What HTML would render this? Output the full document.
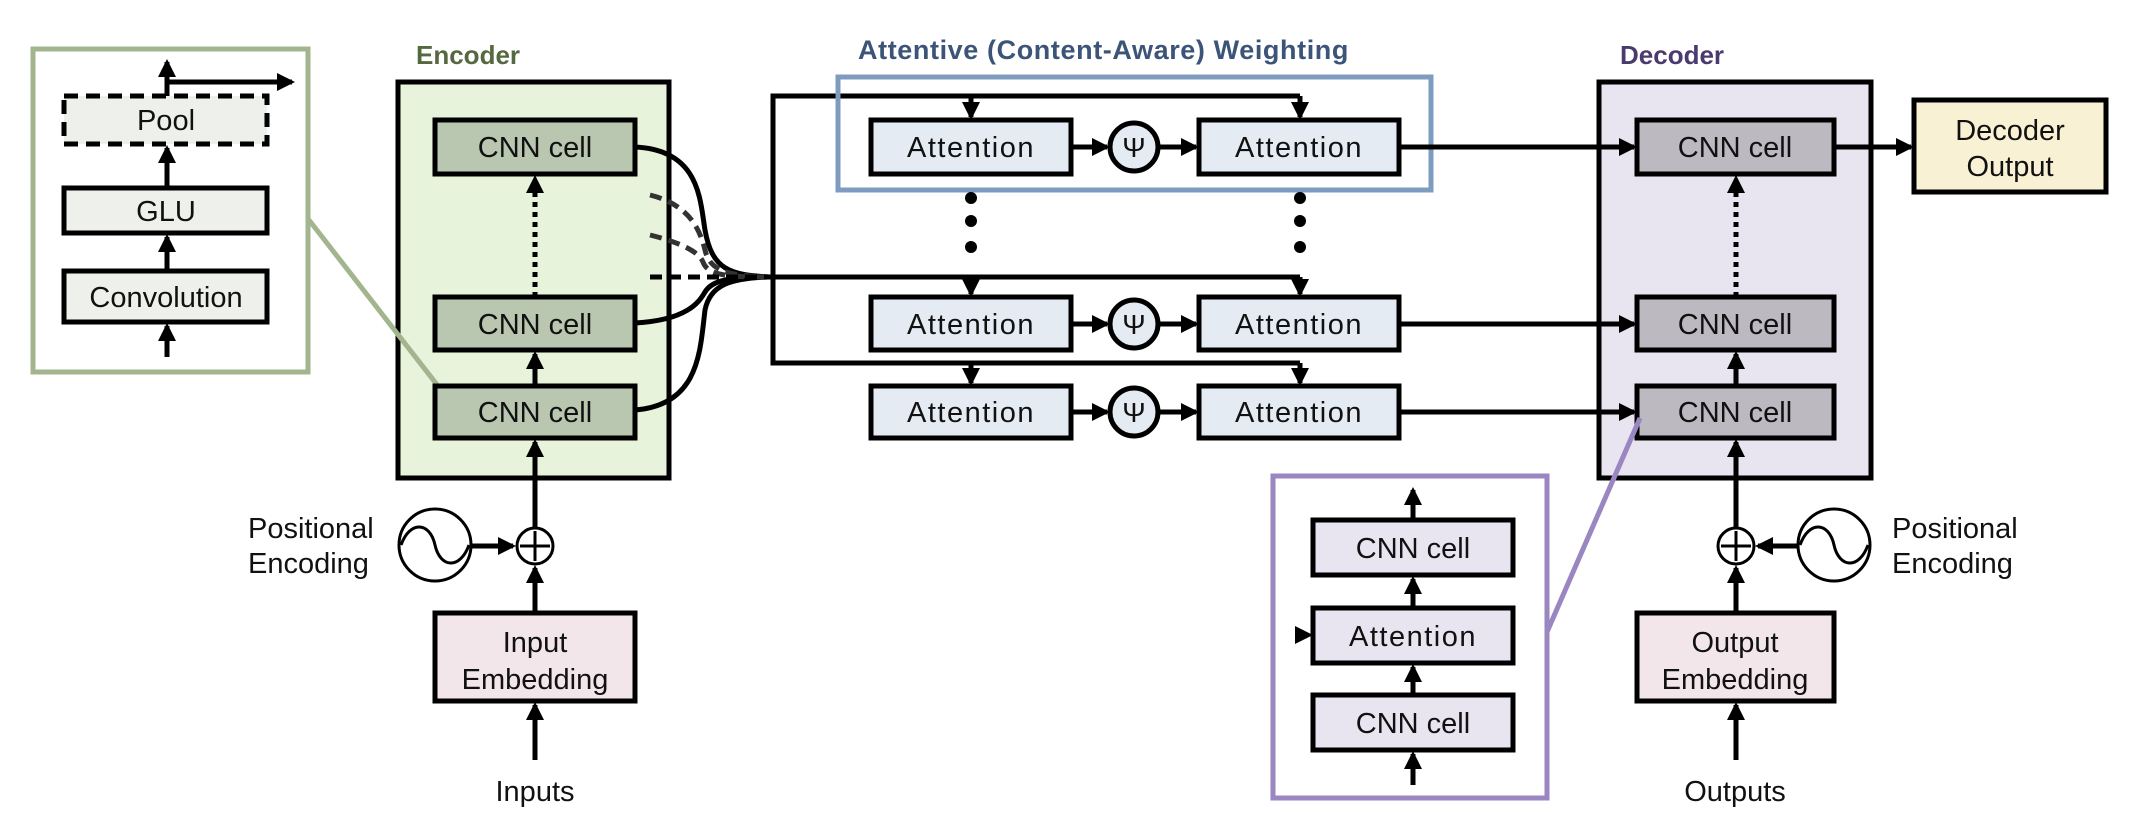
<!DOCTYPE html>
<html><head><meta charset="utf-8"><style>
html,body{margin:0;padding:0;background:#fff;}
svg{display:block;}
text{font-family:"Liberation Sans",sans-serif;}
</style></head><body>
<svg width="2147" height="836" viewBox="0 0 2147 836" xmlns="http://www.w3.org/2000/svg">
<defs>
<marker id="a" markerWidth="3.6" markerHeight="3.6" refX="3" refY="1.8" orient="auto" markerUnits="strokeWidth"><path d="M0,0 L3.6,1.8 L0,3.6 z" fill="#000"/></marker>
<linearGradient id="fade" x1="0" x2="1" y1="0" y2="0"><stop offset="0" stop-color="#222"/><stop offset="1" stop-color="#ddd"/></linearGradient>
<linearGradient id="fade2" x1="0" x2="1"><stop offset="0" stop-color="#ddd"/><stop offset="1" stop-color="#222"/></linearGradient>
</defs>
<g stroke="#000" stroke-width="5" fill="none">
<rect x="33" y="49" width="275" height="323" stroke="#a3b58f"/>
<rect x="64" y="96" width="203" height="48" fill="#eef1eb" stroke-dasharray="14,8"/>
<rect x="64" y="188" width="203" height="45" fill="#eef1eb"/>
<rect x="64" y="271" width="203" height="51" fill="#eef1eb"/>
<line x1="167" y1="357" x2="167" y2="326" marker-end="url(#a)"/>
<line x1="167" y1="271" x2="167" y2="237" marker-end="url(#a)"/>
<line x1="167" y1="188" x2="167" y2="148" marker-end="url(#a)"/>
<line x1="167" y1="96" x2="167" y2="62" marker-end="url(#a)"/>
<line x1="167" y1="82" x2="292" y2="82" marker-end="url(#a)"/>

<rect x="398" y="82" width="271" height="396" fill="#e8f3dc"/>
<line x1="309" y1="220" x2="438" y2="386" stroke="#a3b58f"/>
<rect x="435" y="120" width="200" height="54" fill="#b9c6b0"/>
<rect x="435" y="297" width="200" height="53" fill="#b9c6b0"/>
<rect x="435" y="386" width="200" height="52" fill="#b9c6b0"/>
<line x1="535" y1="297" x2="535" y2="178" stroke-dasharray="5,5" marker-end="url(#a)"/>
<line x1="535" y1="386" x2="535" y2="354" marker-end="url(#a)"/>
<line x1="535" y1="527" x2="535" y2="442" marker-end="url(#a)"/>
<line x1="535" y1="613" x2="535" y2="568" marker-end="url(#a)"/>
<line x1="535" y1="760" x2="535" y2="705" marker-end="url(#a)"/>
<circle cx="535" cy="546" r="18" fill="#fff" stroke-width="3"/>
<line x1="520" y1="546" x2="550" y2="546" stroke-width="3"/><line x1="535" y1="531" x2="535" y2="561" stroke-width="3"/>
<circle cx="435" cy="545" r="36" fill="#fff" stroke-width="3"/>
<path d="M401,545 C410,520 430,522 435,545 C440,568 460,570 469,545" stroke-width="3"/>
<line x1="472" y1="546" x2="513" y2="546" marker-end="url(#a)"/>
<rect x="435" y="613" width="200" height="88" fill="#f3e6ea"/>

<path d="M635,147 C700,150 700,200 705,230 C712,270 730,275 770,277"/>
<path d="M635,323 C690,320 700,300 705,292 C712,280 730,277 770,277"/>
<path d="M635,410 C700,405 700,350 705,310 C710,285 730,278 770,277"/>
<path d="M650,195 C690,205 700,230 705,250 C710,272 730,276 770,277" stroke-dasharray="12,7" stroke="#333"/>
<path d="M650,235 C690,245 700,255 703,262 C708,276 730,277 770,277" stroke-dasharray="12,7" stroke="#333"/>
<line x1="650" y1="277" x2="770" y2="277" stroke-dasharray="12,7"/>

<polyline points="1300,96 773,96 773,363 1300,363"/>
<line x1="770" y1="277" x2="1300" y2="277"/>
<line x1="971" y1="96" x2="971" y2="117" marker-end="url(#a)"/>
<line x1="1300" y1="96" x2="1300" y2="117" marker-end="url(#a)"/>
<line x1="971" y1="277" x2="971" y2="294" marker-end="url(#a)"/>
<line x1="1300" y1="277" x2="1300" y2="294" marker-end="url(#a)"/>
<line x1="971" y1="363" x2="971" y2="383" marker-end="url(#a)"/>
<line x1="1300" y1="363" x2="1300" y2="383" marker-end="url(#a)"/>
<line x1="776" y1="146" x2="835" y2="146" stroke="url(#fade)" stroke-dasharray="14,8"/>
<line x1="776" y1="185" x2="835" y2="185" stroke="url(#fade)" stroke-dasharray="14,8"/>
<line x1="776" y1="226" x2="835" y2="226" stroke="url(#fade)" stroke-dasharray="14,8"/>

<g fill="#e4ebf3">
<rect x="871" y="120" width="200" height="54"/><rect x="1199" y="120" width="200" height="54"/>
<rect x="871" y="297" width="200" height="53"/><rect x="1199" y="297" width="200" height="53"/>
<rect x="871" y="386" width="200" height="52"/><rect x="1199" y="386" width="200" height="52"/>
<circle cx="1134" cy="147" r="24"/><circle cx="1134" cy="324" r="24"/><circle cx="1134" cy="412" r="24"/>
</g>
<line x1="1071" y1="147" x2="1107" y2="147" marker-end="url(#a)"/><line x1="1158" y1="147" x2="1196" y2="147" marker-end="url(#a)"/>
<line x1="1071" y1="324" x2="1107" y2="324" marker-end="url(#a)"/><line x1="1158" y1="324" x2="1196" y2="324" marker-end="url(#a)"/>
<line x1="1071" y1="412" x2="1107" y2="412" marker-end="url(#a)"/><line x1="1158" y1="412" x2="1196" y2="412" marker-end="url(#a)"/>
<rect x="838" y="77" width="593" height="113" stroke="#7d9cc0"/>

<rect x="1599" y="82" width="272" height="396" fill="#e8e5f0"/>
<line x1="1399" y1="147" x2="1634" y2="147" marker-end="url(#a)"/>
<line x1="1399" y1="324" x2="1634" y2="324" marker-end="url(#a)"/>
<line x1="1399" y1="412" x2="1634" y2="412" marker-end="url(#a)"/>
<rect x="1637" y="120" width="197" height="54" fill="#bcb9c0"/>
<rect x="1637" y="297" width="197" height="53" fill="#bcb9c0"/>
<rect x="1637" y="386" width="197" height="52" fill="#bcb9c0"/>
<line x1="1736" y1="297" x2="1736" y2="178" stroke-dasharray="5,5" marker-end="url(#a)"/>
<line x1="1736" y1="386" x2="1736" y2="354" marker-end="url(#a)"/>
<line x1="1736" y1="527" x2="1736" y2="442" marker-end="url(#a)"/>
<line x1="1736" y1="613" x2="1736" y2="568" marker-end="url(#a)"/>
<line x1="1736" y1="760" x2="1736" y2="705" marker-end="url(#a)"/>
<line x1="1834" y1="147" x2="1911" y2="147" marker-end="url(#a)"/>
<circle cx="1736" cy="546" r="18" fill="#fff" stroke-width="3"/>
<line x1="1721" y1="546" x2="1751" y2="546" stroke-width="3"/><line x1="1736" y1="531" x2="1736" y2="561" stroke-width="3"/>
<circle cx="1834" cy="545" r="36" fill="#fff" stroke-width="3"/>
<path d="M1800,545 C1809,520 1829,522 1834,545 C1839,568 1859,570 1868,545" stroke-width="3"/>
<line x1="1797" y1="546" x2="1758" y2="546" marker-end="url(#a)"/>
<rect x="1637" y="613" width="197" height="88" fill="#f3e6ea"/>
<rect x="1914" y="100" width="192" height="92" fill="#f8f1d4"/>

<line x1="1547" y1="632" x2="1640" y2="418" stroke="#9a86c0"/>
<rect x="1273" y="476" width="274" height="322" stroke="#9a86c0"/>
<rect x="1313" y="520" width="200" height="55" fill="#e8e5f0"/>
<rect x="1313" y="608" width="200" height="55" fill="#e8e5f0"/>
<rect x="1313" y="695" width="200" height="55" fill="#e8e5f0"/>
<line x1="1413" y1="520" x2="1413" y2="490" marker-end="url(#a)"/>
<line x1="1413" y1="608" x2="1413" y2="579" marker-end="url(#a)"/>
<line x1="1413" y1="695" x2="1413" y2="667" marker-end="url(#a)"/>
<line x1="1413" y1="785" x2="1413" y2="754" marker-end="url(#a)"/>
<line x1="1275" y1="635" x2="1310" y2="635" stroke="url(#fade2)" marker-end="url(#a)"/>
</g>
<g fill="#000">
<circle cx="971" cy="198" r="6"/><circle cx="971" cy="221" r="6"/><circle cx="971" cy="247" r="6"/>
<circle cx="1300" cy="198" r="6"/><circle cx="1300" cy="221" r="6"/><circle cx="1300" cy="247" r="6"/>
</g>
<g font-size="29" text-anchor="middle" fill="#111">
<text x="166" y="130">Pool</text>
<text x="166" y="221">GLU</text>
<text x="166" y="307">Convolution</text>
<text x="535" y="157">CNN cell</text>
<text x="535" y="334">CNN cell</text>
<text x="535" y="422">CNN cell</text>
<text x="535" y="652">Input</text>
<text x="535" y="689">Embedding</text>
<text x="535" y="801">Inputs</text>
<g letter-spacing="1.5">
<text x="971" y="157">Attention</text><text x="1299" y="157">Attention</text>
<text x="971" y="334">Attention</text><text x="1299" y="334">Attention</text>
<text x="971" y="422">Attention</text><text x="1299" y="422">Attention</text>
<text x="1413" y="646">Attention</text>
</g>
<text x="1735" y="157">CNN cell</text>
<text x="1735" y="334">CNN cell</text>
<text x="1735" y="422">CNN cell</text>
<text x="1735" y="652">Output</text>
<text x="1735" y="689">Embedding</text>
<text x="1735" y="801">Outputs</text>
<text x="2010" y="140">Decoder</text>
<text x="2010" y="176">Output</text>
<text x="1413" y="558">CNN cell</text>
<text x="1413" y="733">CNN cell</text>
<text x="1134" y="157" font-family="Liberation Serif,serif" font-size="28">Ψ</text>
<text x="1134" y="334" font-family="Liberation Serif,serif" font-size="28">Ψ</text>
<text x="1134" y="422" font-family="Liberation Serif,serif" font-size="28">Ψ</text>
</g>
<g font-size="29" fill="#111">
<text x="248" y="538">Positional</text><text x="248" y="573">Encoding</text>
<text x="1892" y="538">Positional</text><text x="1892" y="573">Encoding</text>
</g>
<g font-size="26" font-weight="bold">
<text x="416" y="64" fill="#55683f">Encoder</text>
<text x="858" y="59" fill="#3b5478" font-size="27" letter-spacing="0.6">Attentive (Content-Aware) Weighting</text>
<text x="1620" y="64" fill="#4b3a6e">Decoder</text>
</g>
</svg>
</body></html>
